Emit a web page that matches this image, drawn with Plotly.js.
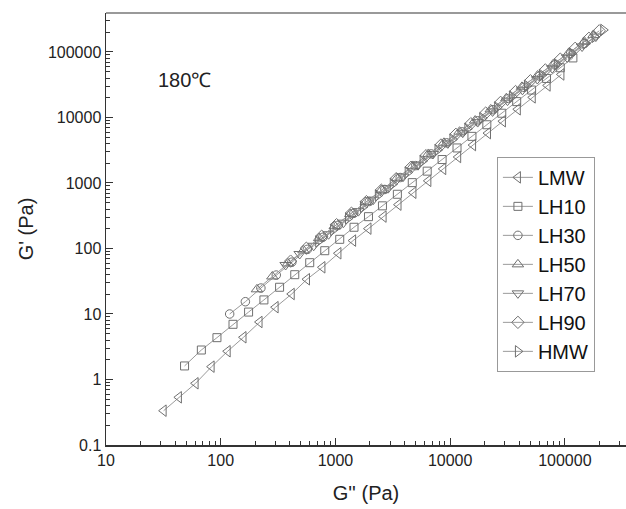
<!DOCTYPE html>
<html><head><meta charset="utf-8">
<script src="https://cdn.plot.ly/plotly-3.0.1.min.js"></script>
<style>html,body{margin:0;padding:0;background:#fff}#chart{width:626px;height:509px}</style>
</head><body><div id="chart"></div>
<script>
// ---- data ----
const seriesNames = ["LMW", "LH10", "LH30", "LH50", "LH70", "LH90", "HMW"];

const LMW_x = [31.8, 43.2, 60.4, 83.3, 115, 158, 218, 301, 416, 565, 770, 1062, 1426, 1941, 2630, 3548, 4786, 6457, 8710, 11750, 15850, 21380, 28840, 38900, 52480, 70790, 93330];
const LMW_y = [0.334, 0.535, 0.875, 1.57, 2.70, 4.41, 7.55, 12.7, 20.2, 33.9, 51.6, 84.5, 132, 201, 307, 467, 710, 1079, 1641, 2495, 3793, 5768, 8770, 13340, 20280, 30830, 45390];

const LH10_x = [48.4, 67.8, 92.7, 128, 175, 238, 326, 442, 597, 807, 1090, 1452, 1941, 2570, 3467, 4677, 6310, 8511, 11480, 15490, 20890, 28180, 38020, 51290, 69180, 91200, 117500];
const LH10_y = [1.61, 2.82, 4.35, 6.96, 10.7, 16.4, 25.6, 39.8, 60.7, 92.5, 138, 211, 306, 448, 673, 1012, 1517, 2280, 3428, 5152, 7745, 11610, 17460, 26240, 39450, 57410, 81100];

const LH30_x = [119.7, 164, 224, 305, 417, 569, 776, 1059, 1445, 1972, 2692, 3673, 5012, 6839, 9333, 12740, 17380, 23710, 32360, 44160, 60260, 82220, 112200, 147900];
const LH30_y = [10.0, 15.4, 24.9, 39.3, 61.8, 97.0, 148, 226, 344, 522, 796, 1211, 1841, 2780, 4102, 6039, 8913, 13150, 19500, 28910, 42950, 63680, 94620, 134300];

const LH50_x = [207, 282, 385, 527, 721, 986, 1349, 1845, 2523, 3451, 4721, 6457, 8831, 12080, 16520, 22590, 30900, 42270, 57810, 79070, 108100, 147900, 177800];
const LH50_y = [23.8, 37.4, 59.2, 93.5, 144, 220, 336, 512, 782, 1191, 1820, 2773, 4102, 6067, 8974, 13270, 19680, 29310, 43650, 64860, 96610, 143900, 182000];

const LH70_x = [368, 488, 646, 871, 1175, 1585, 2138, 2884, 3890, 5248, 7079, 9550, 12880, 17380, 23440, 31620, 42660, 57540, 77620, 104700, 141300, 186200];
const LH70_y = [56.0, 82.4, 110, 165, 248, 372, 557, 834, 1250, 1871, 2770, 4027, 5856, 8511, 12370, 18070, 26420, 38640, 56490, 82600, 121100, 171800];

const LH90_x = [407, 558, 759, 1023, 1380, 1862, 2512, 3388, 4571, 6166, 8318, 11220, 15140, 20420, 27540, 37150, 50120, 67610, 91200, 123000, 162200, 199500];
const LH90_y = [64.1, 101, 154, 231, 346, 519, 776, 1164, 1742, 2612, 3802, 5534, 8035, 11690, 17020, 24890, 36390, 53210, 77800, 113800, 161800, 210400];

const HMW_x = [708, 955, 1288, 1738, 2344, 3162, 4266, 5754, 7762, 10470, 14130, 19050, 25700, 34670, 46770, 63100, 85110, 114800, 151400, 182000, 216300];
const HMW_y = [128, 192, 288, 431, 646, 966, 1449, 2168, 3184, 4624, 6730, 9772, 14220, 20800, 30410, 44460, 65010, 95060, 135200, 170600, 216800];

const xTickVals = [10, 100, 1000, 10000, 100000];
const xTickText = ["10", "100", "1000", "10000", "100000"];
const yTickVals = [0.1, 1, 10, 100, 1000, 10000, 100000];
const yTickText = ["0.1", "1", "10", "100", "1000", "10000", "100000"];
const annotationText = "180\u2103";

// ---- styles ----
const xs = [LMW_x, LH10_x, LH30_x, LH50_x, LH70_x, LH90_x, HMW_x];
const ys = [LMW_y, LH10_y, LH30_y, LH50_y, LH70_y, LH90_y, HMW_y];
const symbols = ["triangle-left-open", "square-open", "circle-open", "triangle-up-open", "triangle-down-open", "diamond-open", "triangle-right-open"];
const sizes = [10, 8, 8.5, 10, 10, 9.5, 10];

const traces = seriesNames.map((n, i) => ({
  x: xs[i], y: ys[i], name: n, type: 'scatter', mode: 'lines+markers',
  line: {color: '#9a9a9a', width: 1},
  marker: {symbol: symbols[i], size: sizes[i], color: '#707070', line: {width: 1}}
}));

const FONT = 'Liberation Sans, Arial, Helvetica, sans-serif';
const axisCommon = {
  type: 'log', ticks: 'inside', ticklen: 7, tickwidth: 1, tickcolor: '#333',
  showline: true, linecolor: '#333', linewidth: 1.5, showgrid: false, zeroline: false,
  tickmode: 'array',
  minor: {ticks: 'inside', ticklen: 4, tickwidth: 1, tickcolor: '#333', dtick: 'D1', showgrid: false},
  tickfont: {size: 16, color: '#222', family: FONT}
};

const layout = {
  width: 626, height: 509,
  margin: {l: 106, r: 0, t: 13, b: 64},
  paper_bgcolor: '#fff', plot_bgcolor: '#fff',
  font: {family: FONT, color: '#222'},
  showlegend: true,
  xaxis: Object.assign({}, axisCommon, {
    range: [1, 5.533], tickvals: xTickVals, ticktext: xTickText,
    title: {text: "G'' (Pa)", font: {size: 20, color: '#222', family: FONT}, standoff: 18}
  }),
  yaxis: Object.assign({}, axisCommon, {
    range: [-1, 5.595], tickvals: yTickVals, ticktext: yTickText,
    title: {text: "G' (Pa)", font: {size: 20, color: '#222', family: FONT}, standoff: 9}
  }),
  legend: {x: 0.846, y: 0.667, xanchor: 'center', yanchor: 'top', bordercolor: '#999', borderwidth: 1,
           bgcolor: '#fff', font: {size: 20, color: '#111', family: FONT}},
  annotations: [{xref: 'paper', yref: 'paper', x: 0.15, y: 0.845, xanchor: 'center', yanchor: 'middle',
                 text: annotationText, showarrow: false, font: {size: 20, color: '#222', family: FONT}}],
  shapes: [{type: 'line', xref: 'paper', yref: 'paper', x0: 0, x1: 1, y0: 1, y1: 1,
            line: {color: '#999', width: 2}}]
};

Plotly.newPlot('chart', traces, layout, {displayModeBar: false, staticPlot: true});
</script>
</body></html>
